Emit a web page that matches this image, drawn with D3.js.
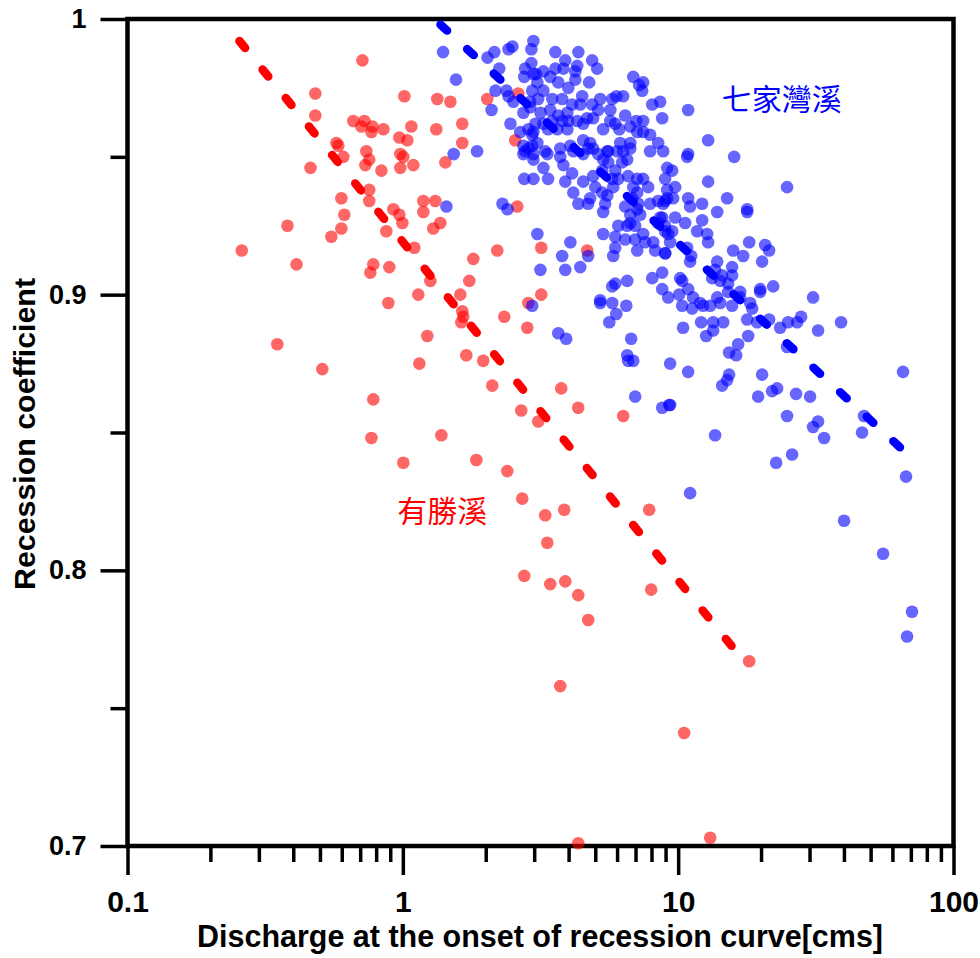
<!DOCTYPE html>
<html><head><meta charset="utf-8">
<script src="https://cdn.jsdelivr.net/npm/d3@7"></script>
<style>body{margin:0;background:#fff}</style>
</head><body>
<svg id="chart" width="980" height="958"></svg>
<script>
const xTickValues = [0.1, 1, 10, 100];
const xTickLabels = ["0.1", "1", "10", "100"];
const xMinorTicks = [0.2,0.3,0.4,0.5,0.6,0.7,0.8,0.9,2,3,4,5,6,7,8,9,20,30,40,50,60,70,80,90];
const yTickValues = [0.7, 0.8, 0.9, 1];
const yTickLabels = ["0.7", "0.8", "0.9", "1"];
const yMinorTicks = [0.75, 0.85, 0.95];
const xTitle = "Discharge at the onset of recession curve[cms]";
const yTitle = "Recession coefficient";

// 有勝溪 (red): [discharge, coefficient]
const redPoints = [[0.713,0.985],[0.481,0.973],[1.013,0.972],[0.481,0.965],[0.661,0.963],[0.725,0.963],[0.707,0.961],[0.775,0.961],[0.769,0.959],[0.850,0.960],[0.971,0.957],[1.038,0.956],[0.574,0.955],[0.583,0.954],[0.737,0.952],[0.979,0.951],[0.608,0.950],[0.755,0.949],[0.731,0.947],[1.004,0.950],[0.836,0.945],[0.979,0.946],[0.462,0.946],[0.755,0.938],[0.755,0.934],[0.598,0.935],[0.613,0.929],[0.924,0.931],[0.971,0.929],[0.996,0.926],[0.598,0.924],[0.550,0.921],[0.381,0.925],[0.871,0.923],[0.260,0.916],[0.411,0.911],[0.781,0.911],[0.762,0.908],[0.893,0.910],[1.334,0.971],[1.488,0.970],[2.026,0.971],[2.626,0.973],[1.074,0.961],[1.323,0.960],[1.644,0.962],[1.644,0.955],[2.560,0.956],[1.092,0.947],[1.427,0.948],[1.187,0.934],[1.312,0.934],[1.187,0.930],[1.368,0.926],[1.290,0.924],[2.604,0.932],[1.101,0.917],[2.203,0.916],[1.803,0.913],[1.259,0.905],[1.743,0.905],[1.138,0.900],[1.617,0.900],[3.182,0.917],[4.673,0.916],[3.182,0.900],[1.644,0.894],[1.658,0.892],[1.631,0.890],[2.336,0.892],[2.855,0.897],[2.831,0.888],[1.227,0.885],[1.148,0.875],[1.700,0.878],[1.959,0.876],[2.113,0.867],[3.761,0.866],[4.335,0.859],[2.692,0.858],[3.103,0.854],[6.314,0.856],[1.380,0.849],[1.004,0.839],[1.849,0.840],[2.395,0.836],[2.715,0.826],[3.290,0.820],[3.857,0.822],[7.847,0.822],[3.346,0.810],[2.761,0.798],[3.431,0.795],[3.889,0.796],[4.335,0.791],[4.712,0.782],[7.980,0.793],[3.730,0.758],[18.11,0.767],[10.51,0.741],[4.335,0.701],[13.07,0.703],[0.886,0.897],[0.350,0.882],[0.510,0.873],[0.781,0.862],[0.769,0.848]];

// 七家灣溪 (blue): [discharge, coefficient]
const bluePoints = [[1.40,0.988],[1.56,0.978],[2.03,0.986],[2.15,0.988],[2.42,0.989],[2.50,0.990],[2.93,0.989],[2.98,0.992],[2.24,0.982],[2.17,0.974],[2.78,0.982],[2.93,0.984],[2.76,0.979],[3.05,0.980],[2.38,0.974],[2.42,0.972],[2.52,0.970],[2.10,0.967],[2.74,0.966],[2.95,0.974],[2.90,0.970],[2.46,0.962],[2.67,0.959],[2.86,0.960],[2.95,0.958],[2.74,0.954],[2.95,0.954],[2.78,0.952],[1.53,0.951],[1.86,0.952],
[3.58,0.988],[3.89,0.985],[4.34,0.988],[4.87,0.985],[5.08,0.982],[4.30,0.983],[4.23,0.981],[3.83,0.982],[3.58,0.982],[3.24,0.981],[2.98,0.980],[3.08,0.977],[3.43,0.979],[3.67,0.977],[4.23,0.978],[4.75,0.977],[3.99,0.975],[3.24,0.974],[3.49,0.971],[3.79,0.971],[3.10,0.971],[2.90,0.968],[3.16,0.966],[3.43,0.967],[3.67,0.965],[3.96,0.966],[4.41,0.969],[4.48,0.972],[4.12,0.969],[4.87,0.969],[5.21,0.971],[5.76,0.971],[5.96,0.972],[6.31,0.972],[5.67,0.967],[5.12,0.967],[4.91,0.964],[4.67,0.964],[4.30,0.963],[3.99,0.963],[3.79,0.963],[3.49,0.963],[3.24,0.962],[3.03,0.962],[2.98,0.959],[3.37,0.960],[3.64,0.960],[3.96,0.960],[4.52,0.962],[5.34,0.960],[5.91,0.962],[6.42,0.965],[7.04,0.963],[7.46,0.963],[6.70,0.961],[5.67,0.963],[6.11,0.960],[6.87,0.979],[7.22,0.976],[7.46,0.977],[7.40,0.974],[8.05,0.969],[8.60,0.970],[8.75,0.964],[7.10,0.959],[7.46,0.959],[7.91,0.958],[8.46,0.955],[3.08,0.955],[3.29,0.952],[3.73,0.953],[4.06,0.954],[4.52,0.956],[4.79,0.955],[4.91,0.953],[4.16,0.952],[5.53,0.952],[6.16,0.955],[6.70,0.955],[7.91,0.952],[8.82,0.952],
[2.98,0.951],[3.35,0.951],[3.73,0.950],[3.83,0.947],[4.52,0.951],[4.71,0.953],[5.12,0.951],[5.57,0.952],[6.01,0.952],[6.31,0.952],[6.70,0.953],[2.98,0.949],[3.24,0.946],[3.37,0.942],[2.98,0.942],[4.12,0.944],[3.89,0.941],[4.16,0.937],[4.52,0.941],[4.91,0.943],[5.30,0.945],[5.57,0.948],[5.34,0.949],[5.91,0.945],[6.26,0.948],[6.53,0.949],[5.76,0.942],[5.81,0.939],[5.53,0.936],[5.00,0.939],[5.30,0.937],[4.79,0.935],[4.34,0.933],[4.71,0.933],[5.34,0.930],[5.43,0.933],[6.06,0.942],[6.58,0.943],[7.10,0.942],[7.46,0.942],[7.78,0.939],[6.87,0.939],[7.10,0.937],[6.81,0.935],[7.16,0.933],[7.10,0.931],[7.28,0.929],[6.42,0.932],[6.70,0.929],[7.91,0.933],[8.46,0.934],[8.97,0.934],[8.75,0.928],[8.46,0.926],[8.97,0.923],[9.20,0.922],[9.12,0.935],[6.06,0.925],[6.53,0.925],[6.70,0.926],[6.98,0.925],[7.46,0.922],[5.91,0.921],[6.42,0.920],[6.98,0.920],[7.59,0.919],[8.12,0.919],[5.34,0.922],[5.91,0.917],[5.81,0.914],[8.25,0.916],[8.97,0.915],[7.10,0.916],[8.05,0.906],[8.75,0.908],[8.75,0.902],[6.53,0.905],[5.91,0.904],[5.76,0.903],[5.21,0.898],[3.08,0.922],[4.06,0.919],[3.79,0.914],[4.71,0.914],[4.41,0.910],[3.89,0.909],[3.16,0.909],
[2.86,0.953],[2.74,0.951],[2.76,0.942],[1.44,0.932],[2.30,0.933],[2.40,0.931],
[10.87,0.967],[12.85,0.956],[10.87,0.951],[10.78,0.950],[15.97,0.950],[9.12,0.946],[9.51,0.945],[8.97,0.942],[24.86,0.939],[12.85,0.941],[9.75,0.939],[9.12,0.938],[9.59,0.935],[10.87,0.935],[15.06,0.935],[11.05,0.932],[12.22,0.933],[13.86,0.930],[17.81,0.931],[17.81,0.930],[8.82,0.933],[8.60,0.928],[9.75,0.928],[10.60,0.926],[12.22,0.927],[8.97,0.925],[11.72,0.923],[12.74,0.922],[12.85,0.919],[9.51,0.923],[9.35,0.919],[8.97,0.915],[10.78,0.917],[11.15,0.914],[11.05,0.912],[15.84,0.916],[17.22,0.914],[18.11,0.919],[20.70,0.918],[21.40,0.916],[20.18,0.912],[10.17,0.906],[10.34,0.905],[10.87,0.902],[13.86,0.912],[13.62,0.909],[13.29,0.906],[14.44,0.907],[14.21,0.905],[15.70,0.910],[15.70,0.907],[15.19,0.904],[13.86,0.899],[16.79,0.901],[16.79,0.899],[19.85,0.902],[19.85,0.901],[22.13,0.903],[30.90,0.899],[9.20,0.899],[11.33,0.899],
[10.08,0.900],[10.34,0.896],[11.24,0.895],[12.02,0.897],[12.32,0.896],[13.07,0.896],[14.21,0.897],[15.70,0.896],[15.19,0.901],[18.26,0.897],[18.57,0.895],[10.42,0.888],[12.12,0.890],[13.40,0.890],[14.57,0.890],[12.64,0.885],[13.40,0.887],[17.81,0.891],[19.36,0.890],[21.40,0.891],[23.46,0.888],[25.07,0.890],[27.04,0.890],[27.96,0.892],[32.22,0.887],[39.05,0.890],[17.96,0.885],[16.51,0.882],[15.31,0.879],[16.24,0.878],[24.86,0.881],[9.35,0.875],[10.87,0.872],[15.31,0.871],[15.06,0.869],[14.44,0.867],[20.18,0.871],[22.88,0.866],[21.94,0.865],[19.52,0.863],[26.81,0.864],[30.14,0.863],[65.57,0.872],[9.35,0.860],[24.86,0.856],[32.22,0.854],[30.90,0.852],[33.88,0.848],[47.33,0.856],[46.55,0.850],[13.62,0.849],[25.93,0.842],[22.69,0.839],[67.24,0.834],[11.05,0.828],[40.04,0.818],[55.48,0.806],[70.68,0.785],[67.80,0.776],
[2.95,0.896],[5.21,0.897],[5.76,0.897],[6.48,0.896],[5.96,0.893],[5.62,0.890],[3.67,0.886],[3.92,0.884],[6.75,0.884],[6.53,0.878],[6.58,0.876],[6.87,0.876],[6.98,0.863],[8.75,0.859],[9.28,0.860]];

// fitted trend lines (end points)
const redFitQ = [0.255, 15.8];
const redFitK = [0.992, 0.772];
const blueFitQ = [1.37, 70];
const blueFitK = [0.998, 0.841];

const seriesNames = ["七家灣溪", "有勝溪"];
const seriesColors = ["#0000ff", "#ff0000"];
const labelQ = [14.4, 0.955];
const labelK = [0.967, 0.8176];

const svg = d3.select("#chart");
const W = 980, H = 958;
svg.append("rect").attr("width", W).attr("height", H).attr("fill", "#fff");

const x = d3.scaleLog().domain([0.1, 100]).range([127.5, 953.5]);
const y = d3.scaleLinear().domain([0.7, 1]).range([846, 19]);
const font = "'Liberation Sans Narrow', 'Arial Narrow', 'Liberation Sans', Arial, sans-serif";

// minor ticks
svg.append("g").attr("transform", "translate(0,846)")
  .call(d3.axisBottom(x).tickValues(xMinorTicks).tickSize(16).tickFormat(""))
  .call(g => g.select(".domain").remove())
  .call(g => g.selectAll("line").attr("stroke", "#000").attr("stroke-width", 3.5));
svg.append("g").attr("transform", "translate(127.5,0)")
  .call(d3.axisLeft(y).tickValues(yMinorTicks).tickSize(17).tickFormat(""))
  .call(g => g.select(".domain").remove())
  .call(g => g.selectAll("line").attr("stroke", "#000").attr("stroke-width", 3.5));

// major ticks
svg.append("g").attr("transform", "translate(0,846)")
  .call(d3.axisBottom(x).tickValues(xTickValues).tickSize(29).tickPadding(16)
    .tickFormat((d, i) => xTickLabels[i]))
  .call(g => g.select(".domain").remove())
  .call(g => g.selectAll("line").attr("stroke", "#000").attr("stroke-width", 3.5))
  .call(g => g.selectAll("text").attr("font-family", font).attr("font-weight", "bold")
    .attr("font-size", 30).attr("fill", "#000"));
svg.append("g").attr("transform", "translate(127.5,0)")
  .call(d3.axisLeft(y).tickValues(yTickValues).tickSize(27).tickPadding(14)
    .tickFormat((d, i) => yTickLabels[i]))
  .call(g => g.select(".domain").remove())
  .call(g => g.selectAll("line").attr("stroke", "#000").attr("stroke-width", 3.5))
  .call(g => g.selectAll("text").attr("font-family", font).attr("font-weight", "bold")
    .attr("font-size", 27).attr("fill", "#000"));

// frame
svg.append("rect").attr("x", 127.5).attr("y", 19).attr("width", 953.5 - 127.5).attr("height", 846 - 19)
  .attr("fill", "none").attr("stroke", "#000").attr("stroke-width", 4.5);

// points
svg.append("g").selectAll("circle").data(redPoints).join("circle")
  .attr("cx", d => x(d[0])).attr("cy", d => y(d[1])).attr("r", 6.3)
  .attr("fill", seriesColors[1]).attr("fill-opacity", 0.6);
svg.append("g").selectAll("circle").data(bluePoints).join("circle")
  .attr("cx", d => x(d[0])).attr("cy", d => y(d[1])).attr("r", 6.3)
  .attr("fill", seriesColors[0]).attr("fill-opacity", 0.6);

// trend lines
const line = d3.line().x(d => x(d[0])).y(d => y(d[1]));
svg.append("path").datum(redFitQ.map((q, i) => [q, redFitK[i]])).attr("d", line)
  .attr("fill", "none").attr("stroke", seriesColors[1]).attr("stroke-width", 8.5)
  .attr("stroke-linecap", "round").attr("stroke-dasharray", "9,27.7");
svg.append("path").datum(blueFitQ.map((q, i) => [q, blueFitK[i]])).attr("d", line)
  .attr("fill", "none").attr("stroke", seriesColors[0]).attr("stroke-width", 8.5)
  .attr("stroke-linecap", "round").attr("stroke-dasharray", "9,27.2");

// series labels
svg.append("g").selectAll("text").data(seriesNames).join("text")
  .attr("x", (d, i) => x(labelQ[i])).attr("y", (d, i) => y(labelK[i]))
  .attr("fill", (d, i) => seriesColors[i])
  .attr("font-family", "'Noto Sans CJK TC', 'Noto Sans CJK SC', sans-serif")
  .attr("font-size", 30).text(d => d);

// axis titles
svg.append("text").attr("x", 540).attr("y", 947).attr("text-anchor", "middle")
  .attr("font-family", font).attr("font-weight", "bold").attr("font-size", 31)
  .attr("textLength", 686).attr("lengthAdjust", "spacingAndGlyphs").text(xTitle);
svg.append("text").attr("transform", "translate(35,434) rotate(-90)").attr("text-anchor", "middle")
  .attr("font-family", font).attr("font-weight", "bold").attr("font-size", 30)
  .attr("textLength", 312).attr("lengthAdjust", "spacingAndGlyphs").text(yTitle);
</script>
</body></html>
